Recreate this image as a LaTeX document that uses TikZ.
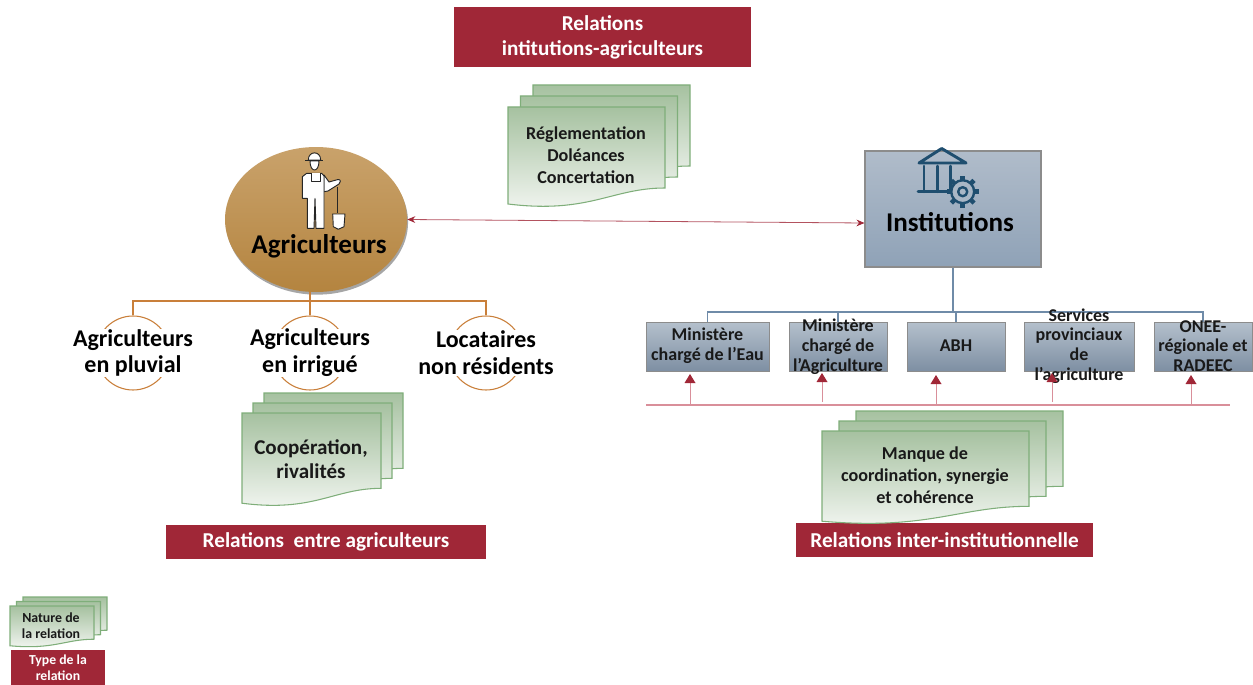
\documentclass[tikz,border=0pt]{standalone}
\usepackage{fontspec}
\setmainfont{Carlito}
\usepackage{tikz}
\usetikzlibrary{calc,shadows,arrows.meta,shapes.geometric}
\definecolor{wine}{HTML}{A02737}
\definecolor{rose}{HTML}{D98F9A}
\definecolor{ochre}{HTML}{C97F3A}
\definecolor{slate}{HTML}{6F8BA8}
\definecolor{iconblue}{HTML}{1F4E6F}
\definecolor{sheetline}{HTML}{7FAE7A}
\definecolor{sheettop}{HTML}{A6C1A0}
\definecolor{sheetbot}{HTML}{F4F7F3}
\definecolor{agritop}{HTML}{C9A26B}
\definecolor{agribot}{HTML}{B4843F}
\definecolor{insttop}{HTML}{B0BCCA}
\definecolor{instbot}{HTML}{8FA2B7}
\definecolor{servtop}{HTML}{B4C0CC}
\definecolor{servbot}{HTML}{7E8FA3}
\newcommand{\fsize}[2][1.22]{\fontsize{#2}{#2}\selectfont\baselineskip=#1\baselineskip\bfseries}
\tikzstyle{arrow} = [wine!80,line width=0.6pt,{Stealth[length=6pt,width=5pt,wine]}-{Stealth[length=6pt,width=5pt,wine]}]
% three sheets, back one first: x, y, width, height, step x, step y
\newcommand{\sheetstack}[6]{
    \foreach \k in {2,1,0}
        \path[shift={(#1+\k*#5,#2-\k*#6)},xscale=#3,yscale=#4,draw=sheetline,line width=0.8pt,top color=sheettop,bottom color=sheetbot]
            (0,0) -- (1,0) -- (1,0.81) .. controls (0.66,0.81) and (0.52,1.07) .. (0,0.97) -- cycle;
}

\begin{document}
\begin{tikzpicture}[x=0.75pt,y=-0.75pt]
    \tikzstyle{title}=[fill=wine,text=white,align=center,inner sep=0pt,font={\fsize[1.17]{15.9}}]
    \tikzstyle{sheet text}=[align=center,inner sep=0pt,text=black!90,font={\fsize[1.21]{13.6}}]
    \tikzstyle{branch ring}=[circle,draw=ochre,line width=0.8pt,minimum size=55.5pt,inner sep=0pt]
    \tikzstyle{branch}=[fill=white,align=center,inner sep=0pt,minimum height=34.5pt,font={\fsize[1.12]{18}}]
    \tikzstyle{service}=[draw=black!45,top color=servtop,bottom color=servbot,minimum height=36.5pt,inner sep=0pt,drop shadow={shadow xshift=0.6pt,shadow yshift=-0.6pt,opacity=0.3}]
    \tikzstyle{service text}=[align=center,inner sep=0pt,text=black!90,font={\fsize[1.1]{13.5}}]
    \tikzstyle{tree orange}=[draw=ochre,line width=0.9pt]
    \tikzstyle{tree slate}=[draw=slate,line width=0.9pt]
    \tikzstyle{farmer}=[fill=white,draw=black!85,line width=0.7pt,line join=round]
    \tikzstyle{building}=[draw=iconblue,line width=2.2pt,line cap=round,line join=round]

    \useasboundingbox (0,0) rectangle (1253,685);

    % Draw the titles
    \node[title,minimum width=223pt,minimum height=45pt] (T-1) at (602.5,37) {Relations\\intitutions-agriculteurs};
    \node[title,minimum width=240pt,minimum height=25.5pt] (T-2) at (326,542) {Relations\ \ entre agriculteurs};
    \node[title,minimum width=223pt,minimum height=25.5pt] (T-3) at (944.5,540) {Relations inter-institutionnelle};
    \node[title,minimum width=70.5pt,minimum height=26pt,font={\fsize[1.16]{10.3}}] (T-4) at (58,667.5) {Type de la\\relation};

    % Draw the sheets
    \sheetstack{508}{107}{157}{100}{12.5}{11}
    \sheetstack{242}{413}{139}{93}{11}{10}
    \sheetstack{822}{431}{207}{93}{17}{10}
    \sheetstack{10}{606}{84}{41}{6.5}{4.5}
    \node[sheet text] (S-1) at (586,155) {Réglementation\\Doléances\\Concertation};
    \node[sheet text,font={\fsize[1.14]{15.8}}] (S-2) at (311,459) {Coopération,\\rivalités};
    \node[sheet text] (S-3) at (925,475) {Manque de\\coordination, synergie\\et cohérence};
    \node[sheet text,font={\fsize[1.16]{10.4}}] (S-4) at (51,626) {Nature de\\la relation};

    % Draw the two main nodes
    \node[ellipse,minimum width=136.5pt,minimum height=108.75pt,inner sep=0pt,top color=agritop,bottom color=agribot,drop shadow={shadow xshift=0.8pt,shadow yshift=-2pt,opacity=0.7}] (Agri) at (316,219.5) {};
    \node[inner sep=0pt,font=\fsize{20.3},text=black] (Agri-T) at (319,246) {Agriculteurs};
    \node[draw=black!45,line width=0.8pt,top color=insttop,bottom color=instbot,minimum width=132pt,minimum height=87pt,inner sep=0pt,drop shadow={shadow xshift=0.5pt,shadow yshift=-0.5pt,opacity=0.3}] (Inst) at (953,209) {};
    \node[inner sep=0pt,font=\fsize{20.3},text=black] (Inst-T) at (950,222) {Institutions};
    \coordinate (Inst-In) at (Inst.west |- 0,223);
    \draw[arrow] (Agri.east) -- (Inst-In);

    % Draw the farmer
    \path[farmer] (308.3,160) .. controls (308.3,150.5) and (320.7,150.5) .. (320.7,160) -- cycle;
    \path[farmer] (305.3,160.7) -- (323.3,160.7);
    \path[farmer] (310,161) .. controls (310,173) and (319,173) .. (319,161) -- cycle;
    \path[farmer] (337.7,186.7) -- (337.7,213.3);
    \path[farmer] (324,175) -- (329,182) -- (338,179.5) .. controls (341,179) and (341,183) .. (339,184) -- (328,191) -- (324,191.7) -- cycle;
    \path[farmer] (306.7,173.3) -- (321.7,173.3) -- (324,176) -- (324,228.3) -- (316,228.3) -- (315,198.3) -- (314,228.3) -- (307.3,228.3) -- (307.3,198.3) -- (302.3,198.3) -- (302.3,176.7) -- cycle;
    \path[farmer] (311.7,173.3) -- (311.7,181.7) -- (320,181.7) -- (320,173.3);
    \path[farmer] (332.7,214) -- (345,214) -- (344,226.7) -- (338.3,229.3) -- (333.3,226.7) -- cycle;

    % Draw the building and the gear
    \path[building] (919,163) -- (941.7,148.5) -- (966,163) -- cycle;
    \foreach \x in {924,937.7,950.7}
        \path[building] (\x,166) -- (\x,191.7);
    \path[building] (918,191.7) -- (950,191.7);
    \foreach \a in {0,45,...,315}
        \path[building,line width=3.4pt,line cap=butt] ($(962.7,191.7)+(\a:10)$) -- ($(962.7,191.7)+(\a:16)$);
    \path[building,line width=1.8pt,fill=insttop!80!instbot] (962.7,191.7) circle (8.6pt);
    \path[building,line width=1.8pt] (962.7,191.7) circle (3.4pt);

    % Draw the farmer groups
    \foreach \name/\x/\txt in {1/133/{Agriculteurs\\en pluvial},2/310/{Agriculteurs\\en irrigué},3/486/{Locataires\\non résidents}}{
        \node[branch ring] (R-\name) at (\x,353) {};
        \node[branch] (B-\name) at (R-\name) {\txt};
    }
    \coordinate (Fork) at (R-2.north |- 0,301);
    \draw[tree orange] (R-2.north |- Agri.south) -- (R-2.north);
    \draw[tree orange] (R-1.north) |- (Fork) -| (R-3.north);

    % Draw the services
    \foreach \name/\x/\w in {1/707.5/92.25,2/838/73.5,3/956/73.5,4/1079/82.5,5/1203/73.5}
        \node[service,minimum width=\w pt] (M-\name) at (\x,346.5) {};
    \coordinate (Hub) at (Inst.south |- 0,312);
    \draw[tree slate] (Inst.south) -- (Hub);
    \draw[tree slate] (M-1.north) |- (Hub) -| (M-5.north);
    \draw[tree slate] (M-2.north) -- (M-2.north |- Hub);
    \draw[tree slate] (M-3.north) -- (M-3.north |- Hub);
    \foreach \name/\x/\y/\txt in {1/707.5/346/{Ministère\\chargé de l’Eau},2/838/346.5/{Ministère\\chargé de\\l’Agriculture},3/956/346/{ABH},4/1079/346/{Services\\provinciaux\\de\\l’agriculture},5/1203/346/{ONEE-\\régionale et\\RADEEC}}
        \node[service text] (L-\name) at (\x,\y) {\txt};

    % Draw the red line with its arrows
    \coordinate (Red-W) at (646,405);
    \coordinate (Red-E) at (1230,405);
    \draw[rose,line width=0.9pt] (Red-W) -- (Red-E);
    \foreach \name/\x/\yfrom/\yto in {1/690/405/375,2/822/402/374,3/936/405/376,4/1052/402/374,5/1191/405/376}{
        \coordinate (A-\name) at (\x,\yfrom);
        \coordinate (C-\name) at (\x,\yto);
        \draw[rose,line width=0.7pt] (A-\name) -- (C-\name);
        \fill[wine] ($(C-\name)+(-5.5,8)$) -- ($(C-\name)+(0,-1)$) -- ($(C-\name)+(5.5,8)$) -- cycle;
    }
\end{tikzpicture}
\end{document}
